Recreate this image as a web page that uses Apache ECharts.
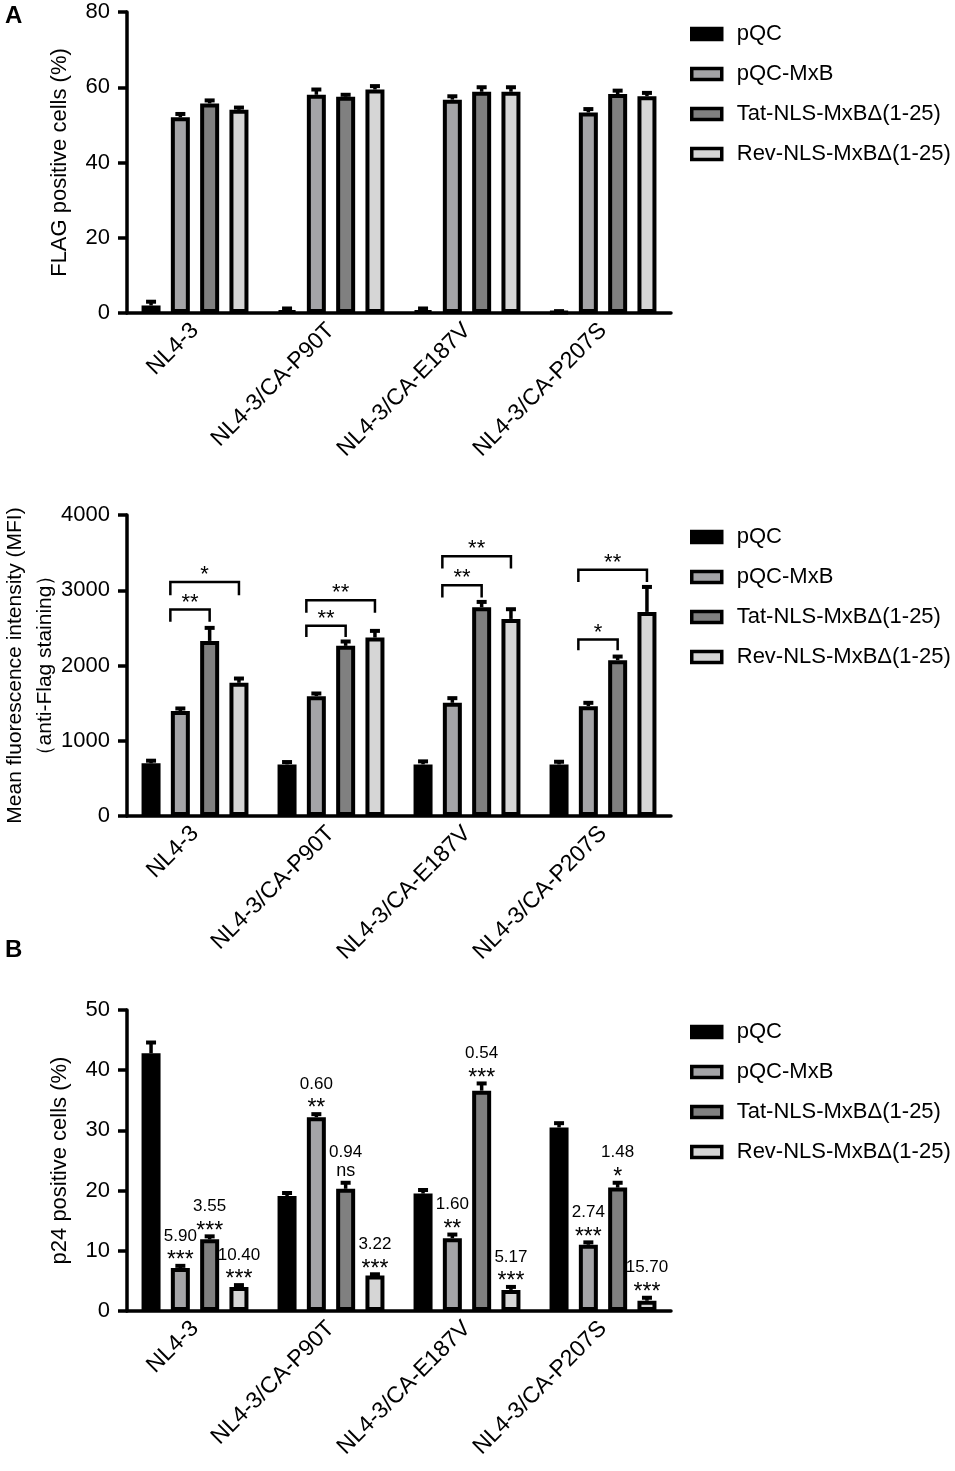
<!DOCTYPE html>
<html>
<head>
<meta charset="utf-8">
<script src="https://cdn.jsdelivr.net/npm/echarts@6/dist/echarts.min.js"></script>
<style>
  html, body { margin: 0; padding: 0; background: #fff; }
  #chart { width: 955px; height: 1471px; }
</style>
</head>
<body>
<div id="chart"></div>
<script>
// categories and series
var categories = ['NL4-3', 'NL4-3/CA-P90T', 'NL4-3/CA-E187V', 'NL4-3/CA-P207S'];
var seriesNames = ['pQC', 'pQC-MxB', 'Tat-NLS-MxBΔ(1-25)', 'Rev-NLS-MxBΔ(1-25)'];
var seriesColors = ['#000000', '#a4a4a7', '#808080', '#d6d6d6'];

// panel A top: FLAG positive cells (%), one row per series
var flagValues = [
  [2.0, 0.5, 0.5, 0.2],
  [52.0, 58.0, 56.7, 53.3],
  [55.7, 57.5, 58.8, 58.2],
  [54.0, 59.4, 58.8, 57.6]
];
var flagErrors = [
  [1.0, 0.7, 0.7, 0.3],
  [0.9, 1.4, 0.9, 0.9],
  [0.8, 0.5, 1.2, 0.9],
  [0.6, 0.9, 1.2, 0.9]
];

// panel A bottom: MFI
var mfiValues = [
  [700, 686, 686, 686],
  [1394, 1593, 1504, 1460],
  [2327, 2261, 2774, 2071],
  [1770, 2372, 2619, 2712]
];
var mfiErrors = [
  [35, 31, 40, 35],
  [35, 35, 62, 44],
  [173, 58, 71, 48],
  [57, 88, 129, 332]
];
// brackets: [category, from series, to series, top value, leg end value]
var mfiBrackets = [
  [0, 1, 2, 2743, 2580], [0, 1, 3, 3110, 2934],
  [1, 1, 2, 2527, 2380], [1, 1, 3, 2867, 2700],
  [2, 1, 2, 3066, 2903], [2, 1, 3, 3451, 3288],
  [3, 1, 2, 2345, 2204], [3, 1, 3, 3274, 3111]
];
var mfiMarks = ['**', '*', '**', '**', '**', '**', '*', '**'];

// panel B: p24 positive cells (%)
var p24Values = [
  [42.8, 19.1, 19.5, 30.5],
  [7.15, 32.2, 12.1, 11.0],
  [11.9, 20.3, 36.6, 20.5],
  [4.0, 5.9, 3.5, 1.7]
];
var p24Errors = [
  [1.8, 0.5, 0.6, 0.7],
  [0.35, 0.5, 0.6, 0.4],
  [0.5, 1.0, 1.2, 0.8],
  [0.3, 0.2, 0.5, 0.5]
];
// fold change and significance above series 1..3
var p24Ratios = [
  ['5.90', '0.60', '1.60', '2.74'],
  ['3.55', '0.94', '0.54', '1.48'],
  ['10.40', '3.22', '5.17', '15.70']
];
var p24Stars = [
  ['***', '**', '**', '***'],
  ['***', 'ns', '***', '*'],
  ['***', '***', '***', '***']
];

var yMax = [80, 4000, 50];
var yStep = [20, 1000, 10];
var yTitles = ['FLAG positive cells (%)', 'Mean fluorescence intensity (MFI)\n（anti-Flag staining）', 'p24 positive cells (%)'];

var FONT = '"Liberation Sans", Arial, Helvetica, sans-serif';
var BAR_W = 19;
var BAR_GAP = 10.3;
var STEP = BAR_W + BAR_GAP;
var gridTops = [12, 515, 1010];

var chart = echarts.init(document.getElementById('chart'), null, { renderer: 'canvas' });

function barX(api, c, s) {
  return api.coord([c, 0])[0] + (s - 1.5) * STEP;
}

function errorItem(params, api) {
  var c = api.value(0), s = api.value(1);
  var x = barX(api, c, s);
  var y0 = api.coord([c, api.value(2)])[1];
  var y1 = api.coord([c, api.value(3)])[1];
  return {
    type: 'group',
    children: [
      { type: 'line', shape: { x1: x, y1: y0, x2: x, y2: y1 }, style: { stroke: '#000', lineWidth: 3.5 } },
      { type: 'line', shape: { x1: x - 5, y1: y1, x2: x + 5, y2: y1 }, style: { stroke: '#000', lineWidth: 4 } }
    ]
  };
}

function errorData(values, errs) {
  var out = [];
  for (var s = 0; s < values.length; s++) {
    for (var c = 0; c < values[s].length; c++) {
      out.push([c, s, values[s][c], values[s][c] + errs[s][c]]);
    }
  }
  return out;
}

var grids = [], xAxes = [], yAxes = [], legends = [], series = [];
for (var p = 0; p < 3; p++) {
  grids.push({ left: 127, top: gridTops[p], width: 544, height: 301, containLabel: false, outerBoundsMode: 'none' });
  xAxes.push({
    type: 'category', gridIndex: p, data: categories,
    axisLine: { lineStyle: { color: '#000', width: 3.5 } },
    axisTick: { alignWithLabel: true, length: 9, lineStyle: { color: '#000', width: 3.5 } },
    axisLabel: { interval: 0, rotate: 45, margin: 14, fontSize: 23, color: '#000', fontFamily: FONT }
  });
  yAxes.push({
    type: 'value', gridIndex: p, min: 0, max: yMax[p], interval: yStep[p],
    name: yTitles[p], nameLocation: 'middle', nameRotate: 90, nameGap: p === 1 ? 67 : 52,
    nameMoveOverlap: false,
    nameTextStyle: { fontSize: p === 1 ? 21 : 22, color: '#000', fontFamily: FONT, lineHeight: 30 },
    axisLine: { show: true, lineStyle: { color: '#000', width: 3.5 } },
    axisTick: { show: true, length: 9, lineStyle: { color: '#000', width: 3.5 } },
    axisLabel: { fontSize: 22, color: '#000', fontFamily: FONT, margin: 17,
      formatter: function (v) { return String(v); } },
    splitLine: { show: false }
  });
  legends.push({
    orient: 'vertical', left: 685, top: gridTops[p] + 6, icon: 'rect',
    itemWidth: 30, itemHeight: 11, itemGap: 18, selectedMode: false,
    itemStyle: { borderColor: '#000', borderWidth: 3.5 },
    textStyle: { fontSize: 22, color: '#000', fontFamily: FONT, lineHeight: 22, padding: [0, 0, 0, 10] },
    data: seriesNames
  });
}

var panelValues = [flagValues, mfiValues, p24Values];
var panelErrors = [flagErrors, mfiErrors, p24Errors];
for (var p = 0; p < 3; p++) {
  for (var s = 0; s < 4; s++) {
    series.push({
      type: 'bar', name: seriesNames[s], xAxisIndex: p, yAxisIndex: p,
      data: panelValues[p][s], barWidth: BAR_W, barGap: (BAR_GAP / BAR_W * 100) + '%',
      itemStyle: { color: seriesColors[s], borderColor: '#000', borderWidth: 4 },
      emphasis: { disabled: true }
    });
  }
  series.push({
    type: 'custom', xAxisIndex: p, yAxisIndex: p, z: 5,
    renderItem: errorItem, encode: { x: 0, y: 3 },
    data: errorData(panelValues[p], panelErrors[p]), silent: true
  });
}

// significance brackets on the MFI panel
series.push({
  type: 'custom', xAxisIndex: 1, yAxisIndex: 1, z: 6, silent: true,
  encode: { x: 0, y: 3 },
  data: mfiBrackets.map(function (b, i) { return b.concat([i]); }),
  renderItem: function (params, api) {
    var c = api.value(0);
    var x1 = barX(api, c, api.value(1)) - 10;
    var x2 = barX(api, c, api.value(2));
    var yt = api.coord([c, api.value(3)])[1];
    var yl = api.coord([c, api.value(4)])[1];
    return {
      type: 'group',
      children: [
        { type: 'polyline', shape: { points: [[x1, yl], [x1, yt], [x2, yt], [x2, yl]] },
          style: { stroke: '#000', lineWidth: 2.5, fill: null } },
        { type: 'text', style: { text: mfiMarks[api.value(5)], x: (x1 + x2) / 2, y: yt + 4,
          align: 'center', verticalAlign: 'bottom', fontSize: 22, fontFamily: FONT, fill: '#000' } }
      ]
    };
  }
});

// fold change labels on the p24 panel
var p24Labels = [];
for (var s = 1; s < 4; s++) {
  for (var c = 0; c < 4; c++) {
    p24Labels.push([c, s, p24Values[s][c] + p24Errors[s][c]]);
  }
}
series.push({
  type: 'custom', xAxisIndex: 2, yAxisIndex: 2, z: 6, silent: true,
  encode: { x: 0, y: 2 },
  data: p24Labels,
  renderItem: function (params, api) {
    var c = api.value(0), s = api.value(1);
    var x = barX(api, c, s);
    var y = api.coord([c, api.value(2)])[1];
    var star = p24Stars[s - 1][c];
    var isNs = star === 'ns';
    return {
      type: 'group',
      children: [
        { type: 'text', style: { text: p24Ratios[s - 1][c], x: x, y: y - 30, align: 'center', verticalAlign: 'middle',
          fontSize: 17, fontFamily: FONT, fill: '#000' } },
        { type: 'text', style: { text: star, x: x, y: isNs ? y - 12 : y - 5, align: 'center', verticalAlign: 'middle',
          fontSize: isNs ? 18 : 23, fontFamily: FONT, fill: '#000' } }
      ]
    };
  }
});

chart.setOption({
  animation: false,
  backgroundColor: '#fff',
  grid: grids,
  xAxis: xAxes,
  yAxis: yAxes,
  legend: legends,
  series: series,
  graphic: [
    { type: 'text', left: 5, top: 4, style: { text: 'A', fontSize: 24, fontWeight: 'bold', fontFamily: FONT, fill: '#000' } },
    { type: 'text', left: 5, top: 938, style: { text: 'B', fontSize: 24, fontWeight: 'bold', fontFamily: FONT, fill: '#000' } }
  ]
});
</script>
</body>
</html>
